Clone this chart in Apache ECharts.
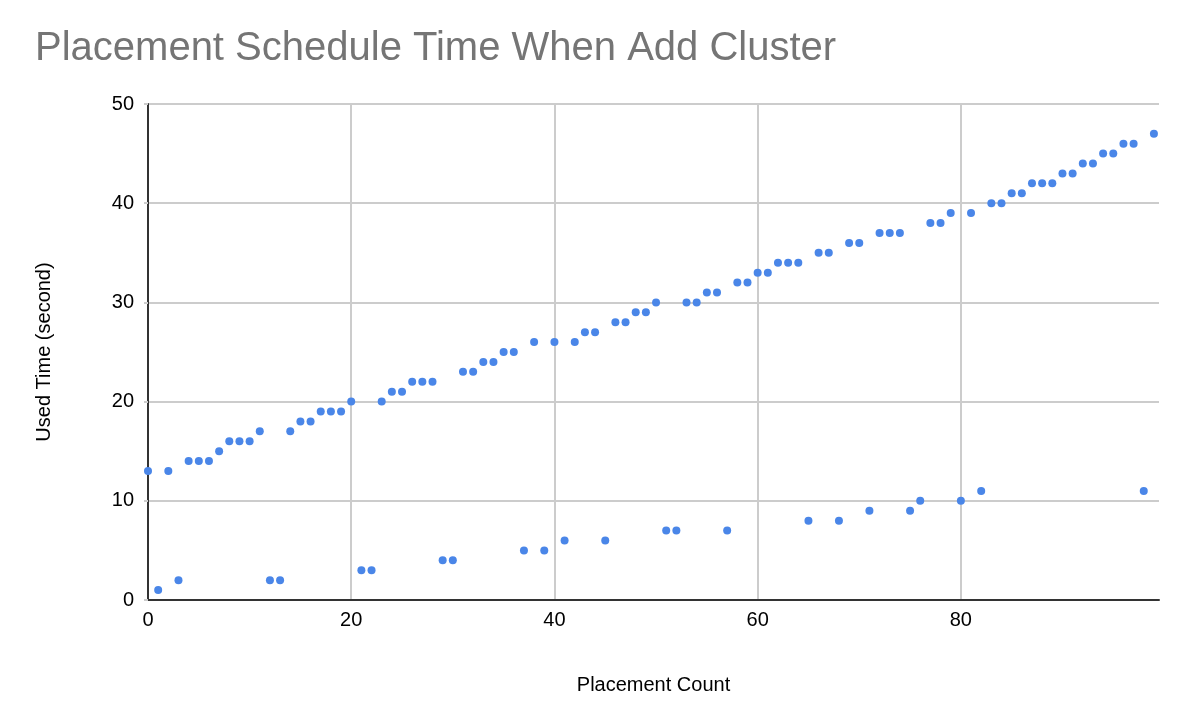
<!DOCTYPE html>
<html>
<head>
<meta charset="utf-8">
<title>Placement Schedule Time When Add Cluster</title>
<script src="https://cdn.jsdelivr.net/npm/echarts@6/dist/echarts.min.js"></script>
<style>
  html, body { margin: 0; padding: 0; background: #fff; }
  #chart { width: 1188px; height: 724px; }
</style>
</head>
<body>
<div id="chart"></div>
<script>
"use strict";

// used time (s) for each placement count, index = placement count 0..99
var usedTime = [
	13, 1, 13, 2, 14, 14, 14, 15, 16, 16,
	16, 17, 2, 2, 17, 18, 18, 19, 19, 19,
	20, 3, 3, 20, 21, 21, 22, 22, 22, 4,
	4, 23, 23, 24, 24, 25, 25, 5, 26, 5,
	26, 6, 26, 27, 27, 6, 28, 28, 29, 29,
	30, 7, 7, 30, 30, 31, 31, 7, 32, 32,
	33, 33, 34, 34, 34, 8, 35, 35, 8, 36,
	36, 9, 37, 37, 37, 9, 10, 38, 38, 39,
	10, 39, 11, 40, 40, 41, 41, 42, 42, 42,
	43, 43, 44, 44, 45, 45, 46, 46, 11, 47
];
var xTicks = [0, 20, 40, 60, 80];
var yTicks = [0, 10, 20, 30, 40, 50];

var points = usedTime.map(function (v, i) { return [i, v]; });

var font = '"Liberation Sans", Arial, Helvetica, sans-serif';

var chart = echarts.init(document.getElementById('chart'));
var option = {
	backgroundColor: '#fff',
	animation: false,
	title: {
		text: 'Placement Schedule Time When Add Cluster',
		left: 30,
		top: 24,
		textStyle: {
			fontFamily: font,
			fontSize: 40,
			fontWeight: 'normal',
			color: '#757575'
		}
	},
	grid: {
		left: 148,
		right: 29,
		top: 104,
		bottom: 124
	},
	xAxis: {
		type: 'value',
		min: 0,
		max: 99.5,
		interval: 20,
		name: 'Placement Count',
		nameLocation: 'middle',
		nameGap: 75,
		nameTextStyle: { fontFamily: font, fontSize: 20, color: '#000' },
		axisLine: { show: true, onZero: false, lineStyle: { color: '#333', width: 2 } },
		axisTick: { show: false },
		axisLabel: {
			fontFamily: font,
			fontSize: 20,
			color: '#000',
			margin: 10,
			formatter: function (v) { return xTicks.indexOf(v) >= 0 ? String(v) : ''; }
		},
		splitLine: { show: true, showMaxLine: false, lineStyle: { color: '#cccccc', width: 2 } }
	},
	yAxis: {
		type: 'value',
		min: 0,
		max: 50,
		interval: 10,
		name: 'Used Time (second)',
		nameLocation: 'middle',
		nameGap: 94,
		nameTextStyle: { fontFamily: font, fontSize: 20, color: '#000' },
		axisLine: { show: true, onZero: false, lineStyle: { color: '#333', width: 2 } },
		axisTick: { show: true, length: 4, lineStyle: { color: '#cccccc', width: 2 } },
		axisLabel: {
			fontFamily: font,
			fontSize: 20,
			color: '#000',
			margin: 14,
			formatter: function (v) { return yTicks.indexOf(v) >= 0 ? String(v) : ''; }
		},
		splitLine: { show: true, lineStyle: { color: '#cccccc', width: 2 } }
	},
	series: [{
		name: 'Used Time',
		type: 'scatter',
		data: points,
		symbolSize: 8,
		itemStyle: { color: '#4a86e8', opacity: 1 }
	}]
};
chart.setOption(option);
window.addEventListener('resize', function () {
	chart.resize();
});
</script>
</body>
</html>
